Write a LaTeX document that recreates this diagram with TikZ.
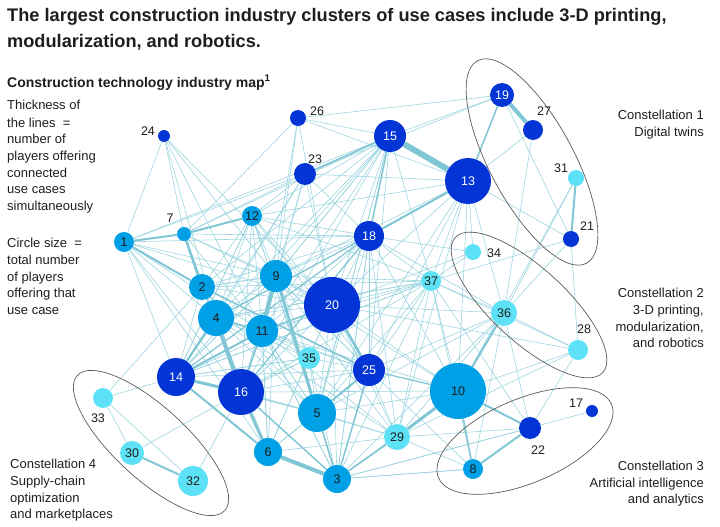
\documentclass[tikz,border=0pt]{standalone}
\usepackage{fontspec}
\setmainfont{Liberation Sans}
\pgfdeclarelayer{edges}
\pgfsetlayers{edges,main}
\definecolor{dkb}{RGB}{3,52,214}
\definecolor{mdb}{RGB}{0,160,230}
\definecolor{ltb}{RGB}{92,225,246}
\definecolor{edg}{RGB}{150,210,222}
\definecolor{edgt}{RGB}{128,198,212}
\definecolor{txt}{RGB}{30,30,30}
\definecolor{ellc}{RGB}{90,90,90}
\begin{document}
\begin{tikzpicture}[x=1pt,y=-1pt,
  uc/.style={circle, inner sep=0pt, draw=none, font=\fontsize{12.5}{14}\selectfont},
  dk/.style={uc, fill=dkb, text=white},
  md/.style={uc, fill=mdb, text=txt},
  lt/.style={uc, fill=ltb, text=txt},
  nlbl/.style={inner sep=0pt, text=txt, font=\fontsize{12.5}{14}\selectfont},
  lbl/.style={inner sep=0pt, text=txt, font=\fontsize{13}{15}\selectfont},
  ell/.style={draw=ellc, line width=0.7pt},
  thinedge/.style={draw=edg, line width=0.55pt},
  thickedge/.style={draw=edgt}
]
\useasboundingbox (0,0) rectangle (720,527);

% title
\node[anchor=base west, inner sep=0pt, text=txt, font=\fontsize{18.2}{22}\selectfont\bfseries] (title1) at (7,22) {The largest construction industry clusters of use cases include 3-D printing,};
\node[anchor=base west, inner sep=0pt, text=txt, font=\fontsize{18.2}{22}\selectfont\bfseries] (title2) at (7,48) {modularization, and robotics.};
\node[anchor=base west, inner sep=0pt, text=txt, font=\fontsize{14}{16}\selectfont\bfseries] (sub) at (7,87) {Construction technology industry map\textsuperscript{1}};

% legend text
\node[lbl, anchor=base west] (k1) at (7,110) {Thickness of};
\node[lbl, anchor=base west] (k2) at (7,127) {the lines~ =};
\node[lbl, anchor=base west] (k3) at (7,143) {number of};
\node[lbl, anchor=base west] (k4) at (7,160) {players offering};
\node[lbl, anchor=base west] (k5) at (7,177) {connected};
\node[lbl, anchor=base west] (k6) at (7,193) {use cases};
\node[lbl, anchor=base west] (k7) at (7,210) {simultaneously};
\node[lbl, anchor=base west] (c1) at (7,247) {Circle size~ =};
\node[lbl, anchor=base west] (c2) at (7,264) {total number};
\node[lbl, anchor=base west] (c3) at (7,281) {of players};
\node[lbl, anchor=base west] (c4) at (7,297) {offering that};
\node[lbl, anchor=base west] (c5) at (7,314) {use case};

% constellation labels
\node[lbl, anchor=base east] (g1a) at (704,119) {Constellation 1};
\node[lbl, anchor=base east] (g1b) at (704,136) {Digital twins};
\node[lbl, anchor=base east] (g2a) at (704,297) {Constellation 2};
\node[lbl, anchor=base east] (g2b) at (704,314) {3-D printing,};
\node[lbl, anchor=base east] (g2c) at (704,331) {modularization,};
\node[lbl, anchor=base east] (g2d) at (704,347) {and robotics};
\node[lbl, anchor=base east] (g3a) at (704,470) {Constellation 3};
\node[lbl, anchor=base east] (g3b) at (704,487) {Artificial intelligence};
\node[lbl, anchor=base east] (g3c) at (704,503) {and analytics};
\node[lbl, anchor=base west] (g4a) at (10,468) {Constellation 4};
\node[lbl, anchor=base west] (g4b) at (10,485) {Supply-chain};
\node[lbl, anchor=base west] (g4c) at (10,502) {optimization};
\node[lbl, anchor=base west] (g4d) at (10,518) {and marketplaces};

% ellipses
\draw[ell, rotate around={-61.7:(532,162)}] (532,162) ellipse [x radius=115pt, y radius=42pt];
\draw[ell, rotate around={-42.5:(529,305)}] (529,305) ellipse [x radius=100pt, y radius=37pt];
\draw[ell, rotate around={23:(525,441)}] (525,441) ellipse [x radius=94pt, y radius=42pt];
\draw[ell, rotate around={-42.5:(151,443)}] (151,443) ellipse [x radius=100pt, y radius=36pt];

% nodes
\node[md, minimum size=20pt] (n1) at (124,242) {1};
\node[md, minimum size=26pt] (n2) at (202,287) {2};
\node[md, minimum size=28pt] (n3) at (337,479) {3};
\node[md, minimum size=36pt] (n4) at (216,318) {4};
\node[md, minimum size=38pt] (n5) at (317,413) {5};
\node[md, minimum size=28pt] (n6) at (268,452) {6};
\node[md, minimum size=14pt] (n7) at (184,234) {};
\node[md, minimum size=20pt] (n8) at (473,469) {8};
\node[md, minimum size=32pt] (n9) at (276,276) {9};
\node[md, minimum size=56pt] (n10) at (458,391) {10};
\node[md, minimum size=32pt] (n11) at (262,331) {11};
\node[md, minimum size=20pt] (n12) at (252,216) {12};
\node[dk, minimum size=46pt] (n13) at (468,181) {13};
\node[dk, minimum size=38pt] (n14) at (176,377) {14};
\node[dk, minimum size=32pt] (n15) at (390,136) {15};
\node[dk, minimum size=46pt] (n16) at (241,392) {16};
\node[dk, minimum size=12pt] (n17) at (592,411) {};
\node[dk, minimum size=30pt] (n18) at (369,236) {18};
\node[dk, minimum size=24pt] (n19) at (502,95) {19};
\node[dk, minimum size=56pt] (n20) at (332,305) {20};
\node[dk, minimum size=16pt] (n21) at (571,239) {};
\node[dk, minimum size=22pt] (n22) at (530,428) {};
\node[dk, minimum size=22pt] (n23) at (305,174) {};
\node[dk, minimum size=12pt] (n24) at (164,136) {};
\node[dk, minimum size=32pt] (n25) at (369,370) {25};
\node[dk, minimum size=16pt] (n26) at (298,118) {};
\node[dk, minimum size=20pt] (n27) at (533,130) {};
\node[lt, minimum size=20pt] (n28) at (578,350) {};
\node[lt, minimum size=26pt] (n29) at (397,437) {29};
\node[lt, minimum size=24pt] (n30) at (132,453) {30};
\node[lt, minimum size=16pt] (n31) at (576,178) {};
\node[lt, minimum size=30pt] (n32) at (193,481) {32};
\node[lt, minimum size=20pt] (n33) at (103,398) {};
\node[lt, minimum size=16pt] (n34) at (473,252) {};
\node[lt, minimum size=22pt] (n35) at (309,358) {35};
\node[lt, minimum size=26pt] (n36) at (504,313) {36};
\node[lt, minimum size=20pt] (n37) at (431,281) {37};

% outside labels
\node[nlbl] (l7) at (170,218) {7};
\node[nlbl] (l17) at (576,403) {17};
\node[nlbl] (l21) at (587,226) {21};
\node[nlbl] (l22) at (538,450) {22};
\node[nlbl] (l23) at (315,159) {23};
\node[nlbl] (l24) at (148,131) {24};
\node[nlbl] (l26) at (317,111) {26};
\node[nlbl] (l27) at (544,111) {27};
\node[nlbl] (l28) at (584,329) {28};
\node[nlbl] (l31) at (561,168) {31};
\node[nlbl] (l33) at (98,418) {33};
\node[nlbl] (l34) at (494,253) {34};

\begin{pgfonlayer}{edges}
\foreach \a/\b in {1/24,1/23,1/4,1/14,1/16,1/11,1/18,1/20,1/9,1/6,
  2/12,2/4,2/9,2/20,2/18,2/15,2/5,2/33,2/16,
  3/5,3/25,3/10,3/22,3/8,3/11,3/9,3/20,3/35,3/18,3/37,3/36,
  4/9,4/12,4/20,4/18,4/5,4/24,4/23,4/37,4/25,
  5/16,5/14,5/20,5/11,5/12,5/18,5/35,5/6,5/15,5/13,5/36,5/37,
  6/11,6/25,6/20,6/35,6/4,6/9,6/29,
  7/24,7/26,7/23,7/9,7/20,7/18,7/11,7/4,7/16,7/15,
  8/3,8/29,8/25,8/37,8/36,
  9/12,9/2,9/20,9/18,9/23,9/15,9/14,9/16,9/37,9/24,9/26,9/25,9/29,9/13,
  10/20,10/5,10/37,10/18,10/13,10/28,10/16,10/11,10/9,
  11/12,11/18,11/25,11/5,11/3,11/6,11/35,11/23,11/24,11/26,11/15,11/37,
  12/23,12/20,12/18,12/15,12/13,12/5,12/16,12/25,12/37,12/14,
  13/37,13/36,13/25,13/20,13/23,13/29,13/34,13/26,13/27,13/21,
  14/9,14/20,14/2,14/33,14/37,14/12,14/5,14/35,14/25,14/15,14/23,
  15/20,15/25,15/37,15/19,15/26,15/16,15/4,15/1,15/9,15/5,
  16/9,16/20,16/32,16/2,16/37,16/25,16/35,16/29,16/30,
  18/20,18/25,18/37,18/23,18/29,18/34,18/36,18/3,
  19/23,19/21,19/26,
  20/23,20/37,20/36,20/28,20/29,20/26,20/24,20/35,
  21/28,21/36,21/37,
  22/17,22/36,22/28,22/3,22/29,22/37,
  25/29,25/37,25/36,25/35,25/9,
  27/36,28/36,28/37,28/29,
  29/37,29/11,29/4,29/36,29/5,
  31/36,31/10,32/33,33/30,34/37,34/20,
  35/9,35/4,35/14,35/16,36/37,37/2,37/4,37/14}
  \draw[thinedge] (n\a) -- (n\b);
\foreach \a/\b/\w in {15/13/6,19/27/4,9/11/4,4/16/4,6/3/4,
  9/5/3,16/6/3,14/16/3,10/29/3,7/2/2.5,20/25/2.5,
  31/21/2,13/18/2,1/7/2,7/12/2,1/2/2,14/4/2,14/11/2,25/5/2,10/22/2,22/8/2,30/32/2,36/10/2,14/6/2,
  15/18/1.5,19/13/1.5,10/8/1.5,2/25/1.5,16/3/1.5,3/29/1.5,23/15/1.5,11/20/1.5,4/11/1.5,16/11/1.5,25/3/1.5,5/3/1.5,
  25/10/1.2,18/14/1.2,18/4/1.2,18/16/1.2}
  \draw[thickedge, line width=\w pt] (n\a) -- (n\b);
\end{pgfonlayer}
\end{tikzpicture}
\end{document}
